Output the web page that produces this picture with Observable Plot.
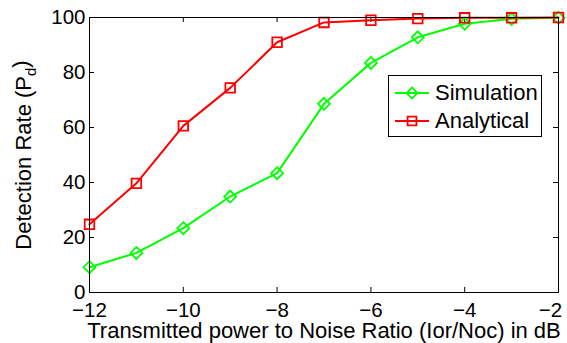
<!DOCTYPE html>
<html><head><meta charset="utf-8">
<script src="https://cdn.jsdelivr.net/npm/d3@7"></script>
<script src="https://cdn.jsdelivr.net/npm/@observablehq/plot@0.6"></script>
<style>
html,body{margin:0;padding:0;background:#fff;}
#wrap{position:relative;width:567px;height:343px;font-family:"Liberation Sans",Arial,sans-serif;}
#legend{position:absolute;left:388px;top:75px;width:152px;height:60px;border:1px solid #000;background:#fff;font-size:22px;}
.row{position:absolute;left:6px;height:26px;display:flex;align-items:center;}
.row span{margin-left:4px;}
</style>
</head><body>
<div id="wrap"></div>
<script>
const snr = [-12, -11, -10, -9, -8, -7, -6, -5, -4, -3, -2];
const simulation = [9.2, 14.4, 23.4, 34.9, 43.4, 68.6, 83.5, 92.8, 97.7, 99.5, 99.9];
const analytical = [24.8, 39.7, 60.6, 74.4, 91.0, 98.2, 99.0, 99.6, 99.9, 99.9, 100];
const seriesNames = ["Simulation", "Analytical"];
const seriesColors = ["#00ff00", "#ff0000"];
const seriesSymbols = ["diamond2", "square"];
const xTicks = [-12, -10, -8, -6, -4, -2];
const yTicks = [0, 20, 40, 60, 80, 100];
const xLabel = "Transmitted power to Noise Ratio (Ior/Noc) in dB";
const yLabel = "Detection Rate (P_d)";

const rows = [];
snr.forEach((x, i) => {
  rows.push({x, y: simulation[i], s: seriesNames[0]});
  rows.push({x, y: analytical[i], s: seriesNames[1]});
});

const W = 567, H = 343;
const mL = 89, mR = 9, mT = 17, mB = 51;
const xDom = [-12, -2], yDom = [0, 100];
const tick = 5;
const tx = tick * (xDom[1] - xDom[0]) / (W - mL - mR);
const ty = tick * (yDom[1] - yDom[0]) / (H - mT - mB);

const chart = Plot.plot({
  width: W, height: H,
  marginLeft: mL, marginRight: mR, marginTop: mT, marginBottom: mB,
  style: {fontFamily: "'Liberation Sans', Arial, sans-serif", fontSize: "20px", color: "#000", background: "#fff", overflow: "visible"},
  x: {domain: xDom},
  y: {domain: yDom},
  color: {domain: seriesNames, range: seriesColors},
  symbol: {domain: seriesNames, range: seriesSymbols},
  marks: [
    Plot.axisX({ticks: xTicks, tickSize: 0, tickPadding: 10, label: null, fontSize: 20.5}),
    Plot.axisY({ticks: yTicks, tickSize: 0, tickPadding: 4, label: null, fontSize: 20.5}),
    Plot.ruleX(xTicks, {x: d => d, y1: yDom[0], y2: yDom[0] + ty, stroke: "#000"}),
    Plot.ruleX(xTicks, {x: d => d, y1: yDom[1], y2: yDom[1] - ty, stroke: "#000"}),
    Plot.ruleY(yTicks, {y: d => d, x1: xDom[0], x2: xDom[0] + tx, stroke: "#000"}),
    Plot.ruleY(yTicks, {y: d => d, x1: xDom[1], x2: xDom[1] - tx, stroke: "#000"}),
    Plot.line(rows, {x: "x", y: "y", z: "s", stroke: "s", strokeWidth: 2}),
    Plot.dot(rows, {x: "x", y: "y", stroke: "s", symbol: "s", r: 5.4, strokeWidth: 1.8, fill: "none"}),
    Plot.frame({stroke: "#000", strokeWidth: 1}),
    Plot.text([xLabel], {text: d => d, frameAnchor: "bottom", dy: 45, lineAnchor: "bottom", textAnchor: "middle", fontSize: 22}),
    Plot.text([yLabel], {text: d => d, frameAnchor: "left", dx: -59, rotate: -90, lineAnchor: "bottom", textAnchor: "middle", fontSize: 22})
  ]
});

// subscript in the y label; keep the last x tick label inside the figure
d3.select(chart).selectAll("text").each(function() {
  const t = d3.select(this);
  if (t.text() === yLabel) {
    const parts = yLabel.match(/^(.*)_(.)(.*)$/);
    t.text(null);
    t.append("tspan").text(parts[1]);
    t.append("tspan").attr("dy", "0.35em").attr("font-size", "15px").text(parts[2]);
    t.append("tspan").attr("dy", "-0.35em").text(parts[3]);
  }
  if (t.text() === "−2") {
    t.attr("dx", "-8");
  }
});

const wrap = document.getElementById("wrap");
wrap.appendChild(chart);

const legend = document.createElement("div");
legend.id = "legend";
seriesNames.forEach((name, i) => {
  const row = document.createElement("div");
  row.className = "row";
  row.style.top = (i === 0 ? 4 : 32) + "px";
  const sym = d3.symbol(d3[i === 0 ? "symbolDiamond2" : "symbolSquare"], Math.PI * 25)();
  row.innerHTML = `<svg width="36" height="20" viewBox="0 0 36 20"><line x1="0" y1="10" x2="34" y2="10" stroke="${seriesColors[i]}" stroke-width="2"/><path d="${sym}" transform="translate(17,10)" fill="none" stroke="${seriesColors[i]}" stroke-width="1.8"/></svg><span>${name}</span>`;
  legend.appendChild(row);
});
wrap.appendChild(legend);
</script>
</body></html>
